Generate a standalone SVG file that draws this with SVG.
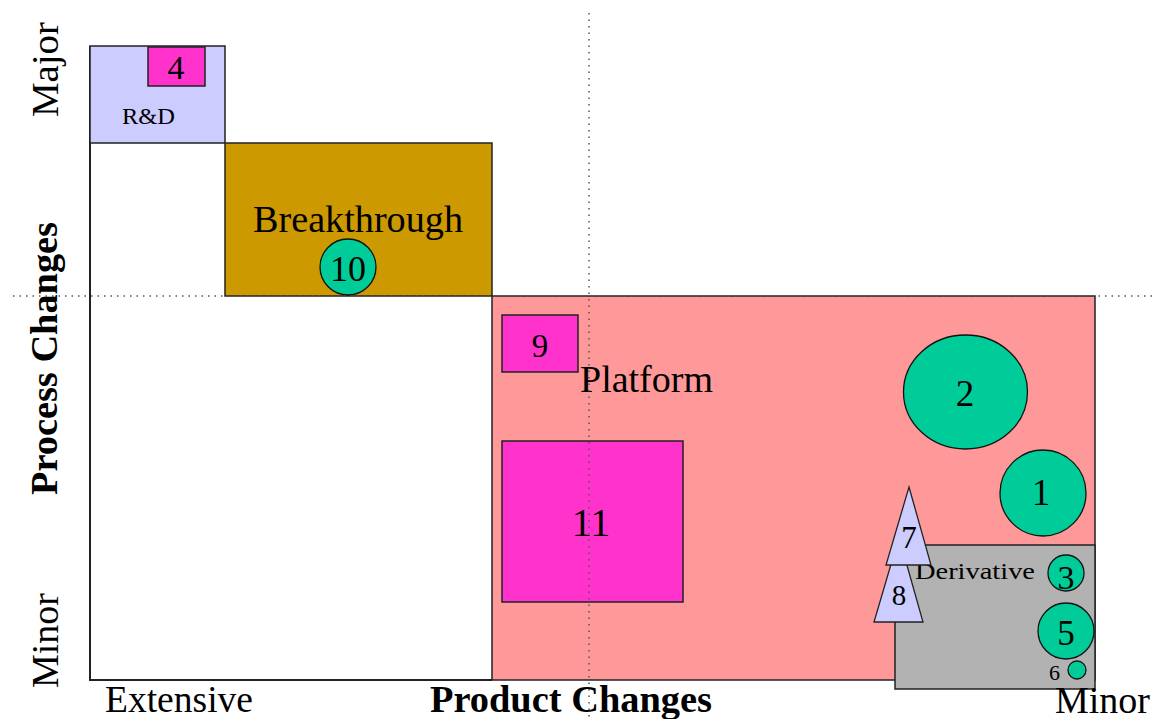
<svg xmlns="http://www.w3.org/2000/svg" width="1156" height="719" viewBox="0 0 1156 719">
<style>
text{font-family:"Liberation Serif","Times New Roman",serif;fill:#000}
.box{stroke:#222;stroke-width:1.5}
.circ{fill:#00CC99;stroke:#111;stroke-width:1.3}
.tri{fill:#CCCCFF;stroke:#222;stroke-width:1.3}
.num{text-anchor:middle}
.guide{stroke:#555;stroke-width:1.5;stroke-dasharray:1.5,5;fill:none}
.axis{stroke:#222;stroke-width:2;fill:none}
.lbl{font-size:37px}
.bold{font-weight:bold}
</style>
<rect width="1156" height="719" fill="#fff"/>
<g id="axes">
<line class="axis" x1="90" y1="46" x2="90" y2="681"/>
<line class="axis" x1="90" y1="680" x2="492" y2="680"/>
</g>
<g id="rd">
<rect class="box" x="90" y="46" width="135" height="97" fill="#CCCCFF"/>
<text x="122" y="124" font-size="23" textLength="53" lengthAdjust="spacingAndGlyphs">R&amp;D</text>
</g>
<g id="n4">
<rect class="box" x="148" y="47" width="57" height="39" fill="#FF33CC"/>
<text class="num" x="176" y="79" font-size="34">4</text>
</g>
<g id="breakthrough">
<rect class="box" x="225" y="143" width="267" height="153" fill="#CC9900"/>
<text x="253" y="232" font-size="38" textLength="210" lengthAdjust="spacingAndGlyphs">Breakthrough</text>
</g>
<g id="n10">
<circle class="circ" cx="348" cy="267" r="28"/>
<text class="num" x="348" y="281" font-size="36">10</text>
</g>
<g id="platform">
<rect class="box" x="492" y="296" width="603" height="384" fill="#FF9999"/>
<text x="580" y="392" font-size="38" textLength="133" lengthAdjust="spacingAndGlyphs">Platform</text>
</g>
<g id="n9">
<rect class="box" x="502" y="315" width="76" height="57" fill="#FF33CC"/>
<text class="num" x="540" y="357" font-size="33">9</text>
</g>
<g id="n11">
<rect class="box" x="502" y="441" width="181" height="161" fill="#FF33CC"/>
<text class="num" x="591" y="536" font-size="40">11</text>
</g>
<g id="n2">
<ellipse class="circ" cx="965.5" cy="392" rx="62" ry="57"/>
<text class="num" x="965" y="406" font-size="37">2</text>
</g>
<g id="n1">
<circle class="circ" cx="1043" cy="493" r="43"/>
<text class="num" x="1041" y="505" font-size="37">1</text>
</g>
<g id="derivative">
<rect class="box" x="895" y="545" width="200" height="144" fill="#B2B2B2"/>
<text x="915" y="579" font-size="23" textLength="120" lengthAdjust="spacingAndGlyphs">Derivative</text>
</g>
<g id="n3">
<circle class="circ" cx="1066" cy="573" r="18"/>
<text class="num" x="1066" y="589" font-size="34">3</text>
</g>
<g id="n5">
<circle class="circ" cx="1066" cy="631" r="28"/>
<text class="num" x="1066" y="645" font-size="35">5</text>
</g>
<g id="n6">
<circle class="circ" cx="1077" cy="670" r="9"/>
<text x="1049" y="680" font-size="22">6</text>
</g>
<g id="n8">
<polygon class="tri" points="899,537 923,622 874,622"/>
<text class="num" x="899" y="605" font-size="29">8</text>
</g>
<g id="n7">
<polygon class="tri" points="909,487 931,565 886,565"/>
<text class="num" x="909" y="548" font-size="31">7</text>
</g>
<g id="connectors">
<line class="guide" x1="13" y1="296" x2="1156" y2="296"/>
<line class="guide" x1="589" y1="13" x2="589" y2="719"/>
</g>
<g id="labels">
<text class="lbl" x="105" y="712" textLength="148" lengthAdjust="spacingAndGlyphs">Extensive</text>
<text class="lbl bold" x="430" y="712" textLength="282" lengthAdjust="spacingAndGlyphs">Product Changes</text>
<text class="lbl" x="1055" y="713" textLength="95" lengthAdjust="spacingAndGlyphs">Minor</text>
<text class="lbl" transform="translate(58,117) rotate(-90)" textLength="95" lengthAdjust="spacingAndGlyphs">Major</text>
<text class="lbl bold" transform="translate(57,495) rotate(-90)" textLength="273" lengthAdjust="spacingAndGlyphs">Process Changes</text>
<text class="lbl" transform="translate(58,688) rotate(-90)" textLength="95" lengthAdjust="spacingAndGlyphs">Minor</text>
</g>
</svg>
